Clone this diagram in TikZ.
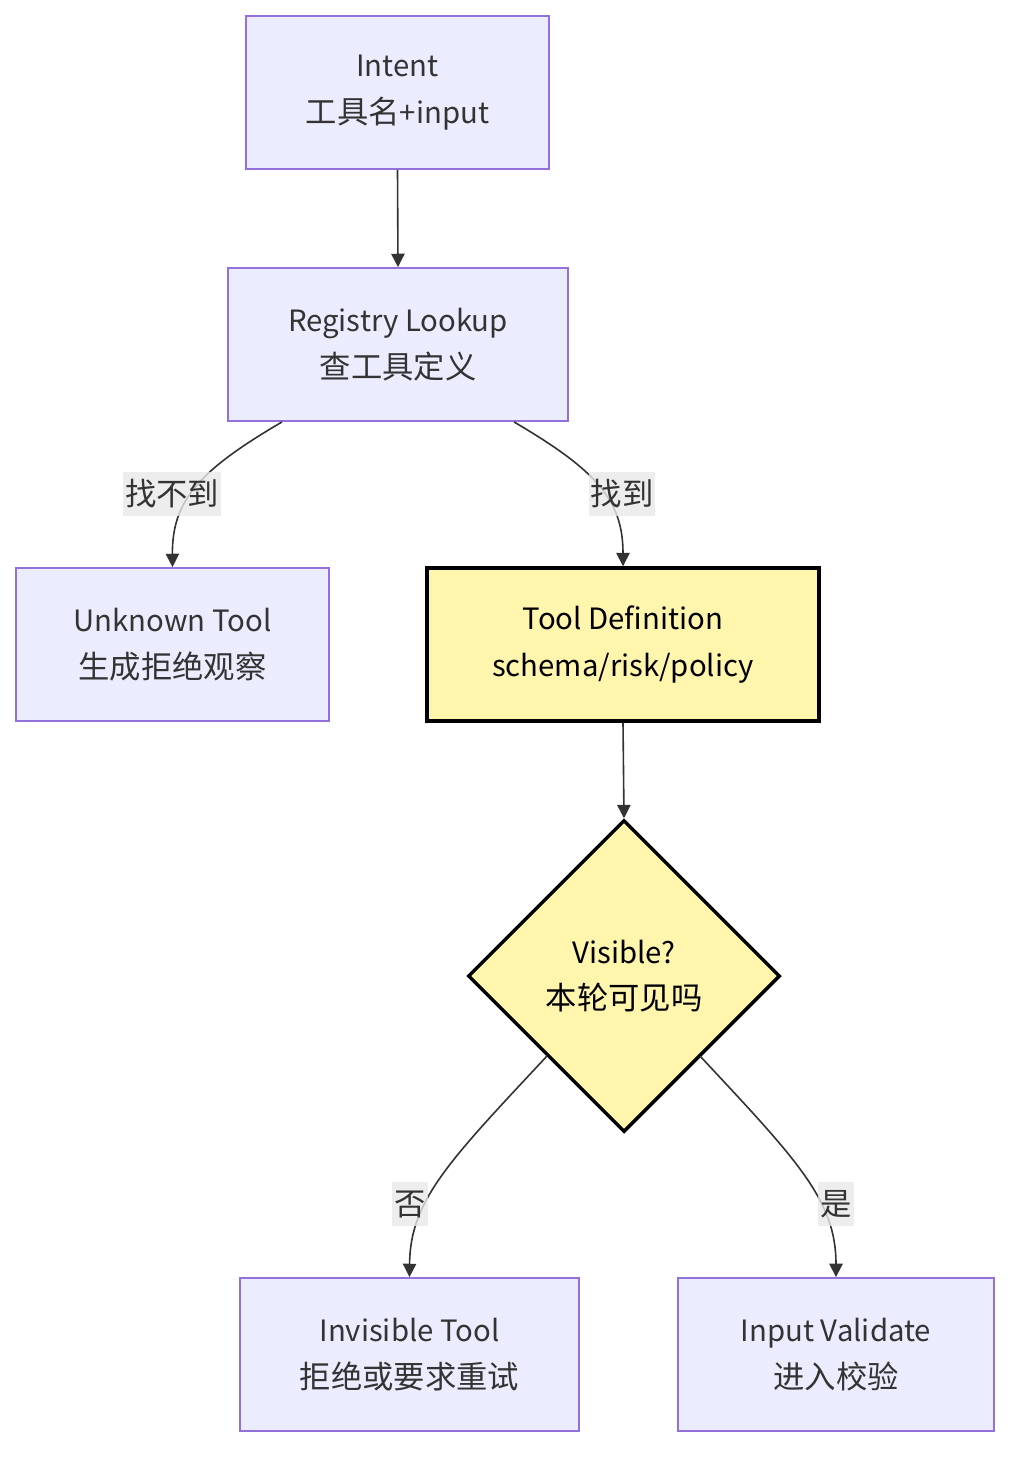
\documentclass[tikz,border=0pt]{standalone}
\usepackage{fontspec}
\setmainfont{Noto Sans CJK SC}
\usetikzlibrary{arrows.meta,shapes.geometric,calc}
\definecolor{boxfill}{HTML}{ECECFF}
\definecolor{boxline}{HTML}{9370DB}
\definecolor{yfill}{HTML}{FFF5AD}
\definecolor{txt}{HTML}{333333}
\definecolor{lblfill}{HTML}{E8E8E8}
\newcommand\zhtxt[1]{{\fontsize{23.5}{35}\selectfont #1}}
\begin{document}
\begin{tikzpicture}[x=0.75pt,y=-0.75pt,
  every node/.style={font=\fontsize{22}{35}\selectfont, align=center, inner sep=0pt},
  box/.style={draw=boxline, fill=boxfill, line width=1.4pt, text=txt, minimum height=114.75pt},
  ybox/.style={draw=black, fill=yfill, line width=2.6pt, text=black, minimum height=114.75pt},
  ydia/.style={diamond, aspect=1, draw=black, fill=yfill, line width=2.6pt, text=black, minimum width=234pt, minimum height=234pt},
  lbl/.style={fill=lblfill, fill opacity=0.8, text opacity=1, text=txt, inner xsep=1.5pt, inner ysep=6pt},
  edge/.style={draw=txt, line width=1.2pt, -{Triangle[length=10pt,width=10pt]}}]
\useasboundingbox (0,0) rectangle (1026,1468);
\node[box, minimum width=227.25pt] (intent) at (397.5,92.5) {Intent\\\zhtxt{工具名}+input};
\node[box, minimum width=255pt] (reg) at (398,344.5) {Registry Lookup\\\zhtxt{查工具定义}};
\node[box, minimum width=234.75pt] (unk) at (172.5,644.5) {Unknown Tool\\\zhtxt{生成拒绝观察}};
\node[ybox, minimum width=294pt] (def) at (623,644.5) {Tool Definition\\schema/risk/policy};
\node[ydia] (vis) at (624,976) {Visible?\\\zhtxt{本轮可见吗}};
\node[box, minimum width=254.25pt] (inv) at (409.5,1354.5) {Invisible Tool\\\zhtxt{拒绝或要求重试}};
\node[box, minimum width=237pt] (val) at (836,1354.5) {Input Validate\\\zhtxt{进入校验}};

\coordinate (r1) at ($(reg.south)+(-116,0)$);
\coordinate (r2) at ($(reg.south)+(116,0)$);
\coordinate (v1) at (547,1056);
\coordinate (v2) at (700,1056);

\draw[edge] (intent.south) -- (reg.north);
\draw[edge] (r1) .. controls (200,470) and (172,500) .. (unk.north);
\draw[edge] (r2) .. controls (596,470) and (623,500) .. (def.north);
\draw[edge] (def.south) -- (vis.north);
\draw[edge] (v1) .. controls (450,1160) and (410,1200) .. (inv.north);
\draw[edge] (v2) .. controls (797,1160) and (836,1200) .. (val.north);

\node[lbl] (l1) at (172,494) {\zhtxt{找不到}};
\node[lbl] (l2) at (622,494) {\zhtxt{找到}};
\node[lbl] (l3) at (410,1204) {\zhtxt{否}};
\node[lbl] (l4) at (836,1204) {\zhtxt{是}};
\end{tikzpicture}
\end{document}
